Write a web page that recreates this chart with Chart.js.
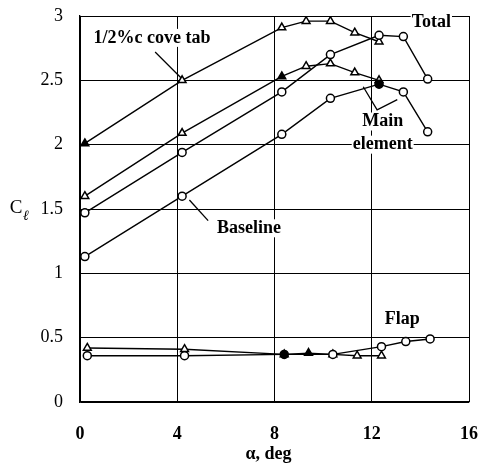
<!DOCTYPE html>
<html>
<head>
<meta charset="utf-8">
<script src="https://cdn.jsdelivr.net/npm/chart.js@4/dist/chart.umd.min.js"></script>
<style>
html,body{margin:0;padding:0;background:#fff;}
#wrap{width:480px;height:468px;}
</style>
</head>
<body>
<div id="wrap"><canvas id="c" width="480" height="468"></canvas></div>
<script>
// ---- data ----
const xTickLabels = ['0', '4', '8', '12', '16'];
const yTickLabels = ['0', '0.5', '1', '1.5', '2', '2.5', '3'];

const alphaBaseline = [0.2, 4.2, 8.3, 10.3, 12.3, 13.3, 14.3];
const baselineTotal = [1.47, 1.94, 2.41, 2.70, 2.85, 2.84, 2.51];
const baselineMain  = [1.13, 1.60, 2.08, 2.36, 2.47, 2.41, 2.10];

const alphaBaselineFlap = [0.3, 4.3, 8.4, 10.4, 12.4, 13.4, 14.4];
const baselineFlap      = [0.36, 0.36, 0.37, 0.37, 0.43, 0.47, 0.49];

const alphaCoveTab = [0.2, 4.2, 8.3, 9.3, 10.3, 11.3, 12.3];
const coveTabTotal = [2.01, 2.50, 2.91, 2.96, 2.96, 2.87, 2.80];
const coveTabMain  = [1.60, 2.09, 2.53, 2.61, 2.63, 2.56, 2.50];

const alphaCoveTabFlap = [0.3, 4.3, 8.4, 9.4, 10.4, 11.4, 12.4];
const coveTabFlap      = [0.42, 0.41, 0.37, 0.38, 0.37, 0.36, 0.36];

// ---- styling ----
const INK = '#000';
const SERIF = '"Liberation Serif", "DejaVu Serif", serif';
function pts(xs, ys) { return xs.map((x, i) => ({ x: x, y: ys[i] })); }
function series(xs, ys, style, filledIdx) {
  const filled = new Set(filledIdx || []);
  return {
    data: pts(xs, ys),
    showLine: true,
    borderColor: INK,
    borderWidth: 1.4,
    pointStyle: style,
    pointRadius: style === 'triangle' ? 4.5 : 4,
    pointBorderWidth: 1.5,
    pointBorderColor: INK,
    pointBackgroundColor: ctx => filled.has(ctx.dataIndex) ? INK : '#fff',
    tension: 0
  };
}

const datasets = [
  series(alphaBaseline, baselineTotal, 'circle'),
  series(alphaBaseline, baselineMain, 'circle', [4]),
  series(alphaBaselineFlap, baselineFlap, 'circle', [2]),
  series(alphaCoveTab, coveTabTotal, 'triangle', [0]),
  series(alphaCoveTab, coveTabMain, 'triangle', [2]),
  series(alphaCoveTabFlap, coveTabFlap, 'triangle', [3])
];

// annotations in data coordinates
const labels = [
  { text: '1/2%c cove tab', x: 2.96, y: 2.83 },
  { text: 'Total', x: 14.45, y: 2.95 },
  { text: 'Main', x: 12.45, y: 2.18 },
  { text: 'element', x: 12.45, y: 2.00 },
  { text: 'Baseline', x: 6.95, y: 1.35 },
  { text: 'Flap', x: 13.25, y: 0.645 }
];
const leaders = [
  [[3.09, 2.72], [4.15, 2.52]],
  [[11.65, 2.45], [12.22, 2.27], [13.05, 2.35]],
  [[4.5, 1.57], [5.27, 1.41]]
];

const annot = {
  id: 'annot',
  afterDatasetsDraw(chart) {
    const ctx = chart.ctx, xs = chart.scales.x, ys = chart.scales.y;
    const ca = chart.chartArea;
    ctx.save();
    ctx.strokeStyle = INK; ctx.lineWidth = 1.3;
    leaders.forEach(l => {
      ctx.beginPath();
      l.forEach((p, i) => {
        const px = xs.getPixelForValue(p[0]), py = ys.getPixelForValue(p[1]);
        if (i === 0) ctx.moveTo(px, py); else ctx.lineTo(px, py);
      });
      ctx.stroke();
    });
    ctx.font = 'bold 18px ' + SERIF;
    ctx.textAlign = 'center'; ctx.textBaseline = 'middle';
    labels.forEach(l => {
      const px = xs.getPixelForValue(l.x), py = ys.getPixelForValue(l.y);
      const w = ctx.measureText(l.text).width;
      ctx.fillStyle = '#fff';
      ctx.fillRect(px - w / 2 - 1, py - 9, w + 2, 18);
      ctx.fillStyle = INK;
      ctx.fillText(l.text, px, py);
    });
    // axis titles
    ctx.font = '19px ' + SERIF;
    ctx.fillText('C', 16, ys.getPixelForValue(1.5) - 1);
    ctx.font = 'italic 14px ' + SERIF;
    ctx.fillText('ℓ', 26, ys.getPixelForValue(1.5) + 7);
    ctx.font = 'bold 18px ' + SERIF;
    ctx.fillText('α, deg', (ca.left + ca.right) / 2 - 6, 454);
    ctx.restore();
  }
};

new Chart(document.getElementById('c'), {
  type: 'scatter',
  data: { datasets: datasets },
  options: {
    responsive: false,
    animation: false,
    devicePixelRatio: 1,
    layout: { padding: 0 },
    plugins: { legend: { display: false }, tooltip: { enabled: false } },
    scales: {
      x: {
        type: 'linear', min: 0, max: 16,
        ticks: {
          stepSize: 4, padding: 22, color: INK,
          font: { family: SERIF, size: 18, weight: 'bold' },
          callback: (v) => xTickLabels[Math.round(v / 4)]
        },
        grid: { color: INK, lineWidth: 1, drawTicks: false },
        border: { display: true, color: INK, width: 1.3 },
        afterFit(s) { s.height = 66; s.paddingLeft = 0; s.paddingRight = 11; }
      },
      y: {
        type: 'linear', min: 0, max: 3,
        ticks: {
          stepSize: 0.5, padding: 17, color: INK,
          font: { family: SERIF, size: 18 },
          callback: (v) => yTickLabels[Math.round(v / 0.5)]
        },
        grid: { color: INK, lineWidth: 1, drawTicks: false },
        border: { display: true, color: INK, width: 1.3 },
        afterFit(s) { s.width = 80; s.paddingTop = 16; s.paddingBottom = 0; }
      }
    }
  },
  plugins: [annot]
});
</script>
</body>
</html>
